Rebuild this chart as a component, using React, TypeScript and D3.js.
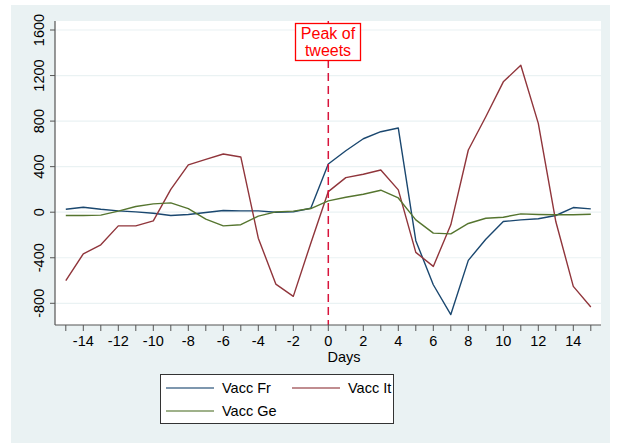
import React from "react";
import * as d3 from "d3";

const days = [-15, -14, -13, -12, -11, -10, -9, -8, -7, -6, -5, -4, -3, -2, -1, 0, 1, 2, 3, 4, 5, 6, 7, 8, 9, 10, 11, 12, 13, 14, 15];
const vaccFr = [26, 44, 26, 12, 3, -9, -29, -20, -3, 15, 12, 12, 0, 3, 35, 423, 540, 645, 707, 739, -250, -637, -899, -423, -237, -82, -67, -58, -29, 41, 29];
const vaccIt = [-600, -365, -286, -120, -120, -76, 201, 415, 464, 511, 485, -228, -631, -739, -272, 181, 304, 333, 371, 196, -353, -476, -111, 546, 838, 1145, 1291, 780, -82, -651, -832];
const vaccGe = [-29, -29, -26, 9, 50, 73, 82, 32, -61, -120, -110, -35, 3, 9, 32, 99, 131, 158, 193, 125, -67, -184, -190, -99, -53, -44, -15, -20, -23, -23, -18];
const yTicks = [-800, -400, 0, 400, 800, 1200, 1600];
const xLabelTicks = [-14, -12, -10, -8, -6, -4, -2, 0, 2, 4, 6, 8, 10, 12, 14];
const seriesNames = ["Vacc Fr", "Vacc It", "Vacc Ge"];
const peakDay = 0;
const peakLabel = ["Peak of", "tweets"];

const colors = ["#1a476f", "#90353b", "#55752f"];
const font = "'Liberation Sans', Arial, Helvetica, sans-serif";

export default function App() {
  const L = 55, R = 601, T = 21, B = 325;
  const x = d3.scaleLinear().domain([-15, 15]).range([65.8, 590.8]);
  const y = d3.scaleLinear().domain([-800, 1600]).range([303.3, 30]);
  const series = [vaccFr, vaccIt, vaccGe];
  const line = (vals: number[]) =>
    d3.line<number>().x((_, i) => x(days[i])).y((v) => y(v))(vals) || "";

  return (
    <svg width={619} height={444} style={{ position: "absolute", left: 0, top: 0, fontFamily: font }}>
      <rect x={0} y={0} width={619} height={444} fill="#ffffff" />
      <rect x={11} y={5} width={599} height={438} fill="#eaf2f3" />
      <rect x={L} y={T} width={R - L} height={B - T} fill="#ffffff" />
      {yTicks.map((t) => (
        <line key={"g" + t} x1={L} x2={R} y1={y(t)} y2={y(t)} stroke="#eaf2f3" strokeWidth={1.2} />
      ))}
      {series.map((s, i) => (
        <path key={i} d={line(s)} fill="none" stroke={colors[i]} strokeWidth={1.4} strokeLinejoin="round" />
      ))}
      <line x1={x(peakDay)} x2={x(peakDay)} y1={T} y2={B} stroke="#d8143c" strokeWidth={1.5} strokeDasharray="8,5" />
      <rect x={295.5} y={23.5} width={65} height={37} fill="#ffffff" stroke="#ff0000" strokeWidth={1.3} />
      {peakLabel.map((t, i) => (
        <text key={t} x={328} y={39 + i * 16.5} textAnchor="middle" fontSize={16} fill="#ff0000">
          {t}
        </text>
      ))}
      {/* axes */}
      <line x1={L} x2={L} y1={T} y2={B} stroke="#555" strokeWidth={1.2} />
      <line x1={L} x2={R} y1={B} y2={B} stroke="#555" strokeWidth={1.2} />
      {yTicks.map((t) => (
        <g key={"y" + t}>
          <line x1={L - 5} x2={L} y1={y(t)} y2={y(t)} stroke="#555" strokeWidth={1} />
          <text
            transform={`translate(44,${y(t)}) rotate(-90)`}
            textAnchor="middle"
            fontSize={14.5}
            fill="#000"
          >
            {t}
          </text>
        </g>
      ))}
      {days.map((d) => (
        <line key={"xt" + d} x1={x(d)} x2={x(d)} y1={B} y2={B + 6} stroke="#555" strokeWidth={1} />
      ))}
      {xLabelTicks.map((d) => (
        <text key={"xl" + d} x={x(d)} y={346} textAnchor="middle" fontSize={14.5} fill="#000">
          {d}
        </text>
      ))}
      <text x={344} y={362} textAnchor="middle" fontSize={14.5} fill="#000">
        Days
      </text>
      {/* legend */}
      <rect x={160.5} y={374.5} width={233} height={49} fill="#ffffff" stroke="#333" strokeWidth={1} />
      {seriesNames.map((n, i) => {
        const col = i === 1 ? 1 : 0;
        const row = i === 2 ? 1 : 0;
        const lx = col === 0 ? 166 : 292;
        const ly = 388 + row * 23;
        return (
          <g key={n}>
            <line x1={lx} x2={lx + 48} y1={ly} y2={ly} stroke={colors[i]} strokeWidth={1.4} opacity={0.75} />
            <text x={col === 0 ? 222 : 348} y={ly + 5} fontSize={14.5} fill="#000">
              {n}
            </text>
          </g>
        );
      })}
    </svg>
  );
}
